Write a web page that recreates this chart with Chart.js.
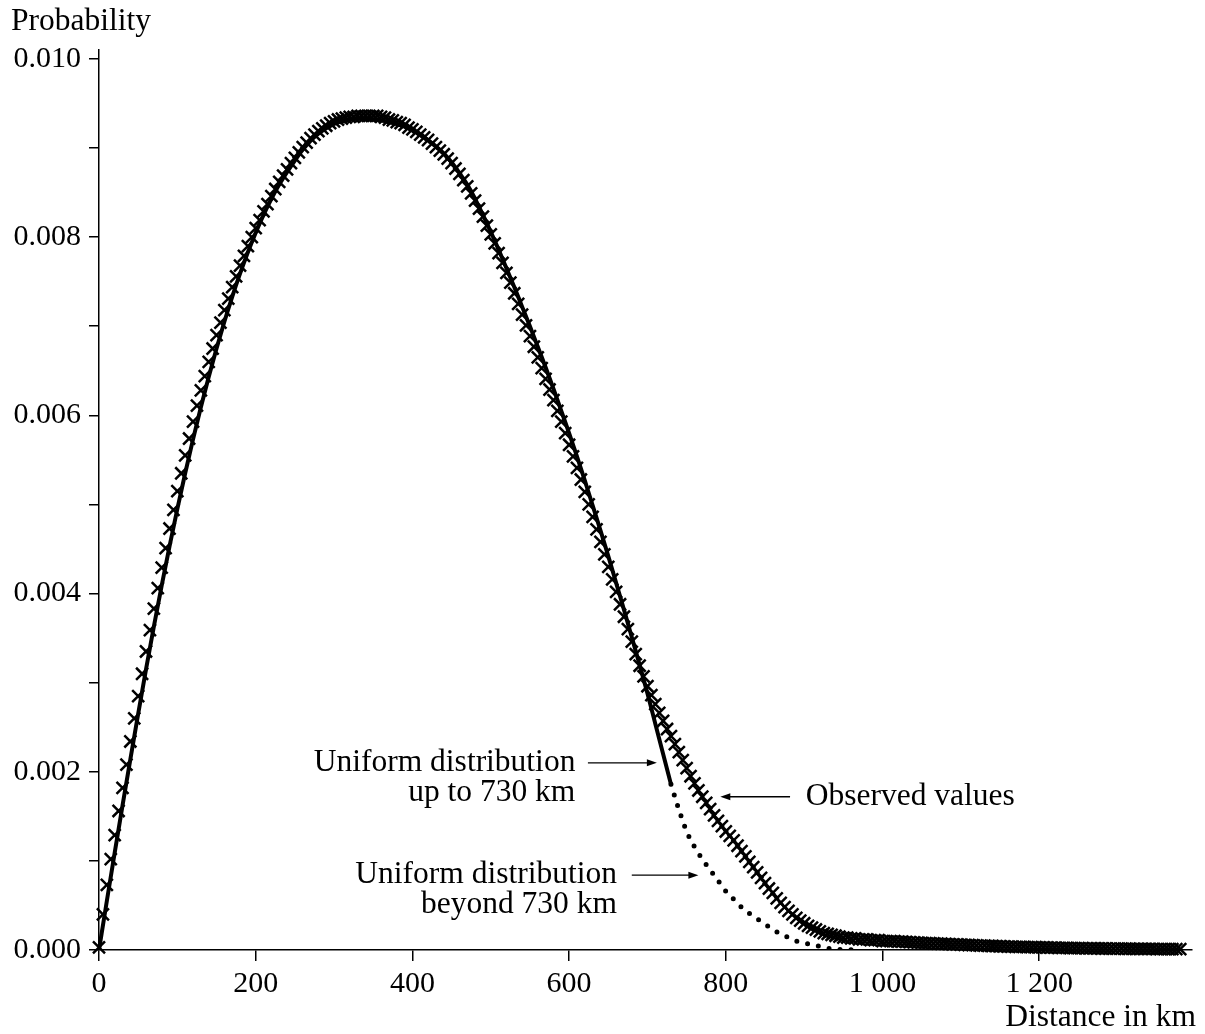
<!DOCTYPE html>
<html>
<head>
<meta charset="utf-8">
<title>Distance distribution</title>
<script src="https://cdn.jsdelivr.net/npm/chart.js"></script>
<style>
  html, body { margin: 0; padding: 0; background: #fff; }
</style>
</head>
<body>
<canvas id="myChart" width="1205" height="1034"></canvas>
<script>
// observed values, one per 5 km bin starting at 0 km
const obsStep = 5;
const observed = [
  0.00003, 0.00040, 0.00073, 0.00102, 0.00129, 0.00156, 0.00182, 0.00208, 0.00234, 0.00260,
  0.00285, 0.00310, 0.00335, 0.00359, 0.00383, 0.00406, 0.00429, 0.00451, 0.00473, 0.00494,
  0.00515, 0.00535, 0.00555, 0.00574, 0.00593, 0.00611, 0.00628, 0.00644, 0.00660, 0.00675,
  0.00690, 0.00704, 0.00718, 0.00731, 0.00744, 0.00756, 0.00768, 0.00779, 0.00790, 0.00800,
  0.00810, 0.00819, 0.00829, 0.00837, 0.00846, 0.00854, 0.00862, 0.00869, 0.00876, 0.00883,
  0.00889, 0.00895, 0.00901, 0.00906, 0.00911, 0.00915, 0.00919, 0.00922, 0.00925, 0.00928,
  0.00930, 0.00932, 0.00933, 0.00934, 0.00935, 0.00935, 0.00936, 0.00936, 0.00936, 0.00936,
  0.00936, 0.00936, 0.00935, 0.00934, 0.00932, 0.00931, 0.00929, 0.00928, 0.00926, 0.00923,
  0.00921, 0.00918, 0.00915, 0.00912, 0.00909, 0.00905, 0.00901, 0.00897, 0.00893, 0.00888,
  0.00883, 0.00877, 0.00871, 0.00864, 0.00857, 0.00849, 0.00841, 0.00832, 0.00823, 0.00813,
  0.00803, 0.00793, 0.00782, 0.00771, 0.00760, 0.00749, 0.00737, 0.00725, 0.00713, 0.00701,
  0.00689, 0.00677, 0.00665, 0.00653, 0.00641, 0.00629, 0.00617, 0.00605, 0.00593, 0.00580,
  0.00567, 0.00554, 0.00541, 0.00528, 0.00514, 0.00500, 0.00486, 0.00472, 0.00458, 0.00444,
  0.00430, 0.00416, 0.00402, 0.00388, 0.00374, 0.00360, 0.00346, 0.00332, 0.00319, 0.00307,
  0.00296, 0.00286, 0.00276, 0.00266, 0.00257, 0.00248, 0.00240, 0.00231, 0.00222, 0.00213,
  0.00204, 0.00195, 0.00187, 0.00179, 0.00172, 0.00165, 0.00158, 0.00151, 0.00145, 0.00139,
  0.00133, 0.00128, 0.00123, 0.00117, 0.00111, 0.00105, 0.00099, 0.00093, 0.00087, 0.00081,
  0.00075, 0.00069, 0.00064, 0.00058, 0.00053, 0.00048, 0.00044, 0.00040, 0.00036, 0.00033,
  0.00030, 0.00027, 0.00025, 0.00023, 0.00021, 0.00019, 0.00018, 0.00017, 0.00016, 0.00015,
  0.00014, 0.00014, 0.00013, 0.00013, 0.00012, 0.00012, 0.00012, 0.00011, 0.00011, 0.00011,
  0.00010,
  0.00010, 0.00010, 0.00010, 0.000095, 0.000093, 0.000090, 0.000088, 0.000085, 0.000083, 0.000080,
  0.000078, 0.000076, 0.000074, 0.000072, 0.000070, 0.000068, 0.000066, 0.000064, 0.000062, 0.000060,
  0.000058, 0.000056, 0.000054, 0.000052, 0.000050, 0.000048, 0.000046, 0.000045, 0.000044, 0.000042,
  0.000040, 0.000039, 0.000038, 0.000036, 0.000035, 0.000034, 0.000033, 0.000032, 0.000031, 0.000030,
  0.000029, 0.000028, 0.000027, 0.000026, 0.000025, 0.000024, 0.000023, 0.000022, 0.000021, 0.000020,
  0.000020, 0.000019, 0.000019, 0.000018, 0.000018, 0.000017, 0.000017, 0.000016, 0.000016, 0.000015,
  0.000015, 0.000014, 0.000014, 0.000013, 0.000013, 0.000013, 0.000012, 0.000012, 0.000012, 0.000011,
  0.000011, 0.000011, 0.000010, 0.000010, 0.000010, 0.000010
];

// uniform distribution model, every 10 km
const lineStep = 10;
const uniformUpTo730 = [
  0, 0.00055, 0.00109, 0.00162, 0.00214, 0.00265, 0.00315, 0.00363, 0.00409, 0.00453,
  0.00495, 0.00535, 0.00573, 0.00609, 0.00643, 0.00675, 0.00705, 0.00733, 0.00759, 0.00783,
  0.00805, 0.00825, 0.00843, 0.00859, 0.00873, 0.00886, 0.00898, 0.00908, 0.00916, 0.00922,
  0.00927, 0.00930, 0.00932, 0.00933, 0.00933, 0.00932, 0.00931, 0.00929, 0.00927, 0.00924,
  0.00920, 0.00915, 0.00909, 0.00902, 0.00894, 0.00884, 0.00872, 0.00859, 0.00843, 0.00825,
  0.00806, 0.00786, 0.00765, 0.00744, 0.00722, 0.00700, 0.00677, 0.00654, 0.00630, 0.00605,
  0.00580, 0.00554, 0.00527, 0.00499, 0.00471, 0.00442, 0.00412, 0.00382, 0.00351, 0.00320,
  0.00288, 0.00254, 0.00220, 0.00186
];
const beyondStart = 730;
const uniformBeyond730 = [
  0.00186, 0.00158, 0.00133, 0.00116, 0.00102, 0.00090, 0.00078, 0.00066, 0.00057, 0.00048,
  0.00041, 0.00035, 0.00029, 0.00023, 0.00018, 0.00014, 0.00010, 0.00008, 0.00006, 0.00004,
  0.00002, 0.00001, 0.000005, 0.000002
];

const xTickValues = [0, 200, 400, 600, 800, 1000, 1200];
const yTickValues = [0, 0.001, 0.002, 0.003, 0.004, 0.005, 0.006, 0.007, 0.008, 0.009, 0.010];
const yLabelValues = [0, 0.002, 0.004, 0.006, 0.008, 0.010];

const serif = '"Liberation Serif", "Times New Roman", serif';
Chart.defaults.font.family = serif;
Chart.defaults.color = '#000';

function kmFormat(v) {
  return String(Math.round(v)).replace(/\B(?=(\d{3})+(?!\d))/g, ' ');
}

const notes = [
  { lines: ['Uniform distribution', 'up to 730 km'], align: 'right', at: [608, 0.0021], from: [624, 0.0021], to: [712, 0.0021] },
  { lines: ['Uniform distribution', 'beyond 730 km'], align: 'right', at: [661, 0.00084], from: [680, 0.00084], to: [765, 0.00084] },
  { lines: ['Observed values'], align: 'left', at: [902, 0.00172], from: [882, 0.00172], to: [793, 0.00172] }
];

const overlay = {
  id: 'overlay',
  afterDraw(chart) {
    const { ctx, chartArea } = chart;
    const x = chart.scales.x, y = chart.scales.y;
    ctx.save();
    ctx.fillStyle = '#000';
    ctx.strokeStyle = '#000';
    ctx.font = '31.5px ' + serif;
    ctx.textBaseline = 'middle';
    ctx.textAlign = 'left';
    ctx.fillText('Probability', 11, 22);
    ctx.textAlign = 'right';
    ctx.fillText('Distance in km', chartArea.right + 4, 1018);

    notes.forEach(function(n) {
      ctx.textAlign = n.align;
      const tx = x.getPixelForValue(n.at[0]);
      const ty = y.getPixelForValue(n.at[1]);
      n.lines.forEach(function(t, i) {
        ctx.fillText(t, tx, ty + i * 30);
      });
      const x1 = x.getPixelForValue(n.from[0]), y1 = y.getPixelForValue(n.from[1]);
      const x2 = x.getPixelForValue(n.to[0]), y2 = y.getPixelForValue(n.to[1]);
      const dir = x2 > x1 ? 1 : -1;
      ctx.lineWidth = 1.3;
      ctx.beginPath();
      ctx.moveTo(x1, y1);
      ctx.lineTo(x2 - dir * 6, y2);
      ctx.stroke();
      ctx.beginPath();
      ctx.moveTo(x2, y2);
      ctx.lineTo(x2 - dir * 10, y2 - 3.5);
      ctx.lineTo(x2 - dir * 10, y2 + 3.5);
      ctx.closePath();
      ctx.fill();
    });
    ctx.restore();
  }
};

const ctx = document.getElementById('myChart').getContext('2d');
new Chart(ctx, {
  type: 'scatter',
  data: {
    datasets: [
      {
        label: 'Uniform distribution up to 730 km',
        data: uniformUpTo730.map(function(v, i) { return { x: i * lineStep, y: v }; }),
        showLine: true,
        borderColor: '#000',
        borderWidth: 4,
        pointRadius: 0,
        cubicInterpolationMode: 'monotone',
        borderCapStyle: 'round'
      },
      {
        label: 'Uniform distribution beyond 730 km',
        data: uniformBeyond730.map(function(v, i) { return { x: beyondStart + i * lineStep, y: v }; }),
        showLine: true,
        borderColor: '#000',
        borderWidth: 5,
        borderDash: [0, 11],
        borderCapStyle: 'round',
        pointRadius: 0,
        cubicInterpolationMode: 'monotone'
      },
      {
        label: 'Observed values',
        data: observed.map(function(v, i) { return { x: i * obsStep, y: v }; }),
        pointStyle: 'crossRot',
        pointRadius: 8.5,
        pointBorderWidth: 2.5,
        borderColor: '#000',
        backgroundColor: '#000',
        clip: false
      }
    ]
  },
  options: {
    responsive: false,
    animation: false,
    devicePixelRatio: 1,
    layout: { padding: { top: 50, right: 13, left: 0, bottom: 0 } },
    plugins: { legend: { display: false }, tooltip: { enabled: false } },
    scales: {
      x: {
        type: 'linear',
        min: 0,
        max: 1395,
        afterFit: function(s) { s.height = 84; },
        afterBuildTicks: function(s) { s.ticks = xTickValues.map(function(v) { return { value: v }; }); },
        ticks: {
          autoSkip: false,
          maxRotation: 0,
          minRotation: 0,
          padding: 5,
          color: '#000',
          font: { size: 30, family: serif },
          callback: function(v) { return kmFormat(v); }
        },
        grid: { drawOnChartArea: false, drawTicks: true, tickLength: 11, color: '#000', lineWidth: 1.5 },
        border: { display: true, color: '#000', width: 1.5 }
      },
      y: {
        min: 0,
        max: 0.0101,
        afterFit: function(s) { s.width = 99; },
        afterBuildTicks: function(s) { s.ticks = yTickValues.map(function(v) { return { value: v }; }); },
        ticks: {
          autoSkip: false,
          padding: 8,
          color: '#000',
          font: { size: 30, family: serif },
          callback: function(v) {
            return yLabelValues.some(function(l) { return Math.abs(l - v) < 1e-9; }) ? v.toFixed(3) : '';
          }
        },
        grid: { drawOnChartArea: false, drawTicks: true, tickLength: 10, color: '#000', lineWidth: 1.5 },
        border: { display: true, color: '#000', width: 1.5 }
      }
    }
  },
  plugins: [overlay]
});
</script>
</body>
</html>
